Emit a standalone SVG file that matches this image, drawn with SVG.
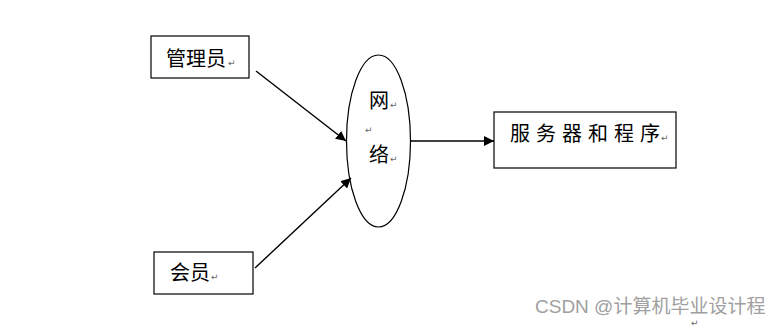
<svg xmlns="http://www.w3.org/2000/svg" width="781" height="328" viewBox="0 0 781 328">
<defs>
<style>
.box{fill:#fff;stroke:#000;stroke-width:1.2}
.t{font-family:"Noto Sans CJK SC","Liberation Sans",sans-serif;font-size:20px;fill:#000}
.pm{font-family:"DejaVu Sans",sans-serif;font-size:9px;fill:#666}
.c{stroke:#000;stroke-width:1.4;fill:none}
.wm{font-family:"Liberation Sans","Noto Sans CJK SC",sans-serif;font-size:19px;fill:#a0a0a0}
</style>
<marker id="ah" viewBox="0 0 10 10" refX="10" refY="5" markerWidth="10" markerHeight="10" markerUnits="userSpaceOnUse" orient="auto">
<path d="M0,0 L10,5 L0,10 z" fill="#000"/>
</marker>
</defs>
<rect width="781" height="328" fill="#fff"/>
<g id="admin">
<rect class="box" x="151" y="36" width="98" height="42"/>
<text class="t" x="166" y="66">管理员</text>
<text class="pm" x="228" y="66">↵</text>
</g>
<g id="network">
<ellipse class="box" cx="378.5" cy="141" rx="32" ry="86"/>
<text class="t" x="369" y="108">网</text>
<text class="pm" x="390" y="108">↵</text>
<text class="pm" x="365" y="133">↵</text>
<text class="t" x="369" y="162">络</text>
<text class="pm" x="390" y="162">↵</text>
</g>
<g id="server">
<rect class="box" x="494" y="112" width="182" height="56"/>
<text class="t" x="510" y="141"><tspan x="510">服</tspan><tspan x="536">务</tspan><tspan x="562">器</tspan><tspan x="588">和</tspan><tspan x="614">程</tspan><tspan x="640">序</tspan></text>
<text class="pm" x="661" y="141">↵</text>
</g>
<g id="member">
<rect class="box" x="154" y="252" width="99" height="42"/>
<text class="t" x="170" y="280">会员</text>
<text class="pm" x="211" y="280">↵</text>
</g>
<g id="connectors">
<line class="c" x1="256" y1="71" x2="346" y2="141" marker-end="url(#ah)"/>
<line class="c" x1="255" y1="268" x2="351" y2="178" marker-end="url(#ah)"/>
<line class="c" x1="411" y1="141" x2="494" y2="141" marker-end="url(#ah)"/>
</g>
<text class="wm" x="535" y="313">CSDN @计算机毕业设计程</text>
<text class="pm" x="691" y="326" font-size="7">↵</text>
</svg>
